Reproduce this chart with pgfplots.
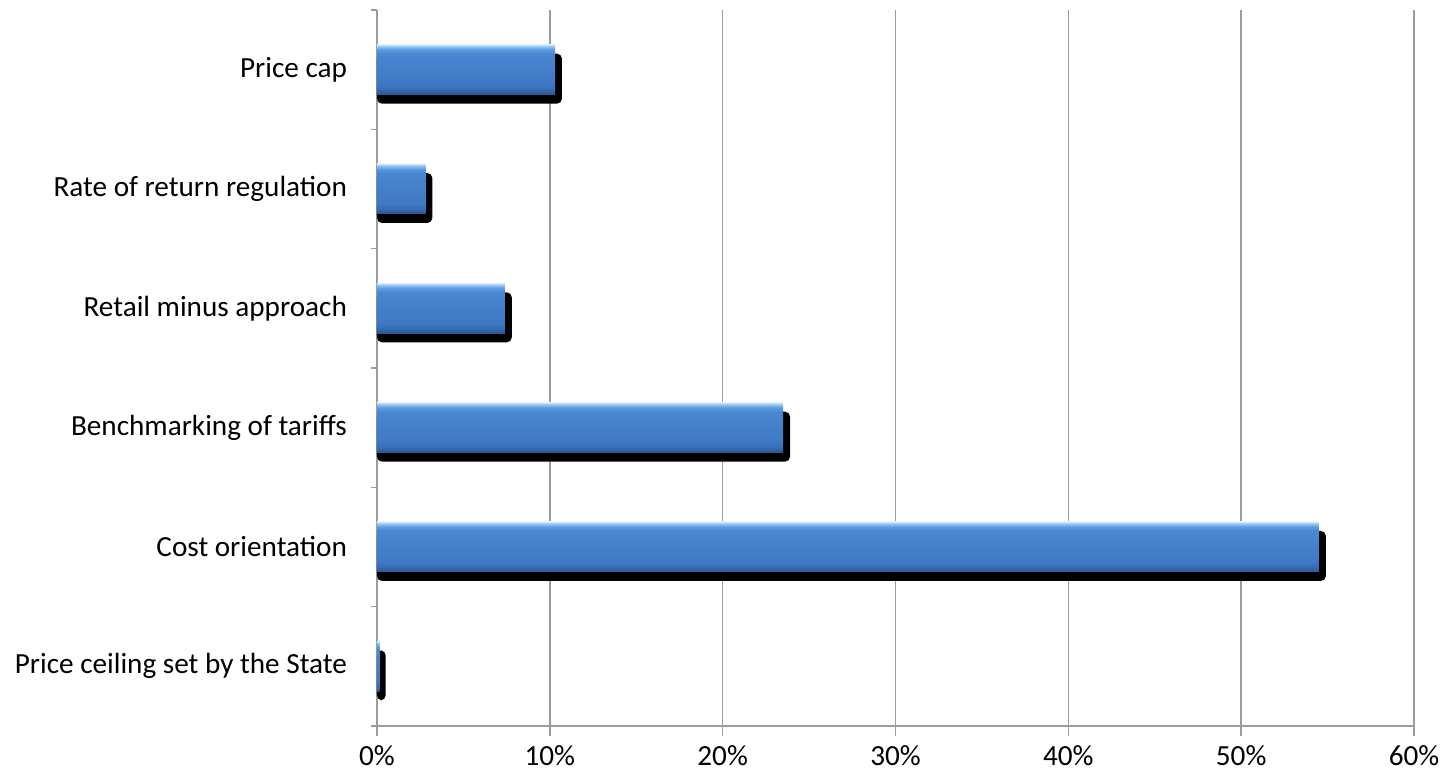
\documentclass[border=0pt]{standalone}
\usepackage{pgfplots}
\pgfplotsset{compat=1.18}
\usepackage{fontspec}
\setmainfont{Carlito}
\definecolor{gridgray}{HTML}{9C9C9C}
\definecolor{bA}{HTML}{2A5690}
\definecolor{bB}{HTML}{2F5E9F}
\definecolor{bC}{HTML}{3A6FB8}
\definecolor{bD}{HTML}{3F78C4}
\definecolor{bE}{HTML}{4A86D2}
\definecolor{bF}{HTML}{5C9BE0}
\definecolor{bG}{HTML}{8CC0F2}
\definecolor{bH}{HTML}{D0E6FB}
\pgfdeclareverticalshading{barshade}{100bp}{%
  color(0bp)=(bA); color(25bp)=(bA); color(27bp)=(bB); color(31bp)=(bC);
  color(35bp)=(bD); color(66bp)=(bE); color(70bp)=(bF); color(73bp)=(bG);
  color(75bp)=(bH); color(100bp)=(bH)}
\pgfplotsset{
  shadowbar/.style={xbar, bar width=25pt, bar shift=-4.5pt, fill=black, draw=none, rounded corners=2.5pt},
  bodybar/.style={xbar, bar width=25pt, draw=none, shading=barshade},
}
\begin{document}
\begin{tikzpicture}
\begin{axis}[
  at={(0,0)}, anchor=south west,
  scale only axis, width=518.5pt, height=358pt,
  xmin=0, xmax=60, ymin=-0.5, ymax=5.5,
  axis x line=bottom, axis y line=left,
  axis line style={gridgray, -, line width=0.7pt},
  xtick={0,10,...,60},
  xticklabels={0\%,10\%,20\%,30\%,40\%,50\%,60\%},
  xmajorgrids, grid style={gridgray, line width=0.7pt},
  x tick style={gridgray, line width=0.7pt},
  major tick length=5pt,
  xtick align=outside,
  ytick={0,...,5},
  yticklabels={Price ceiling set by the State,Cost orientation\ ,Benchmarking of tariffs,Retail minus approach,Rate of return regulation,Price cap},
  y tick style={draw=none},
  minor ytick={-0.5,0.5,...,5.5},
  minor tick length=3pt,
  minor y tick style={gridgray, line width=0.7pt, draw=gridgray},
  ytick align=outside,
  tick label style={font=\fontsize{14.6pt}{17pt}\selectfont, text=black},
  yticklabel style={xshift=-6.5pt},
  xticklabel style={yshift=-3.6pt, inner sep=1pt},
  /pgf/number format/assume math mode=true,
  clip=false,
]
% shadows
\addplot[shadowbar] coordinates {(0.5,0) (54.9,1) (23.9,2) (7.8,3) (3.2,4) (10.7,5)};
% bars
\addplot[bodybar] coordinates {(0.15,0)};
\addplot[bodybar] coordinates {(54.5,1)};
\addplot[bodybar] coordinates {(23.5,2)};
\addplot[bodybar] coordinates {(7.4,3)};
\addplot[bodybar] coordinates {(2.8,4)};
\addplot[bodybar] coordinates {(10.3,5)};
\end{axis}
\pgfresetboundingbox
\path (-188.5pt,-25.5pt) rectangle (537.5pt,363pt);
\end{tikzpicture}
\end{document}
